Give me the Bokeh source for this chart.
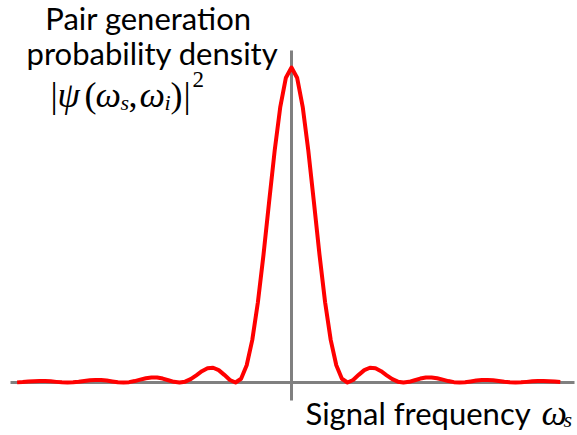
from bokeh.plotting import figure
from bokeh.models import Label, Range1d
from bokeh.embed import file_html
from bokeh.resources import INLINE

# Normalized signal frequency (offset from centre, in units of first-zero spacing)
freq = [-4.9, -4.8, -4.7, -4.6, -4.5, -4.4, -4.3, -4.2, -4.1, -4.0,
        -3.9, -3.8, -3.7, -3.6, -3.5, -3.4, -3.3, -3.2, -3.1, -3.0,
        -2.9, -2.8, -2.7, -2.6, -2.5, -2.4, -2.3, -2.2, -2.1, -2.0,
        -1.9, -1.8, -1.7, -1.6, -1.5, -1.4, -1.3, -1.2, -1.1, -1.0,
        -0.9, -0.8, -0.7, -0.6, -0.5, -0.4, -0.3, -0.2, -0.1, 0.0,
        0.1, 0.2, 0.3, 0.4, 0.5, 0.6, 0.7, 0.8, 0.9, 1.0,
        1.1, 1.2, 1.3, 1.4, 1.5, 1.6, 1.7, 1.8, 1.9, 2.0,
        2.1, 2.2, 2.3, 2.4, 2.5, 2.6, 2.7, 2.8, 2.9, 3.0,
        3.1, 3.2, 3.3, 3.4, 3.5, 3.6, 3.7, 3.8, 3.9, 4.0,
        4.1, 4.2, 4.3, 4.4, 4.5, 4.6, 4.7, 4.8]
# Pair generation probability density (normalized to peak)
density = [0.0004, 0.0015, 0.0030, 0.0043, 0.0050, 0.0047, 0.0036, 0.0020, 0.0006, 0.0,
           0.0006, 0.0024, 0.0048, 0.0071, 0.0083, 0.0079, 0.0061, 0.0034, 0.0010, 0.0,
           0.0011, 0.0045, 0.0091, 0.0136, 0.0162, 0.0159, 0.0125, 0.0072, 0.0022, 0.0,
           0.0027, 0.0108, 0.0229, 0.0358, 0.0450, 0.0468, 0.0392, 0.0243, 0.0080, 0.0,
           0.0119, 0.0547, 0.1353, 0.2546, 0.4053, 0.5728, 0.7368, 0.8751, 0.9675, 1.0,
           0.9675, 0.8751, 0.7368, 0.5728, 0.4053, 0.2546, 0.1353, 0.0547, 0.0119, 0.0,
           0.0080, 0.0243, 0.0392, 0.0468, 0.0450, 0.0358, 0.0229, 0.0108, 0.0027, 0.0,
           0.0022, 0.0072, 0.0125, 0.0159, 0.0162, 0.0136, 0.0091, 0.0045, 0.0011, 0.0,
           0.0010, 0.0034, 0.0061, 0.0079, 0.0083, 0.0071, 0.0048, 0.0024, 0.0006, 0.0,
           0.0006, 0.0020, 0.0036, 0.0047, 0.0050, 0.0043, 0.0030, 0.0015]

W, H = 577, 435
X0 = 291.0      # canvas px of freq = 0
SX = 56.0       # px per freq unit
Y0 = 382.0      # canvas px (from top) of density = 0
SY = 315.0      # px per density unit

p = figure(width=W, height=H, output_backend="svg", toolbar_location=None,
           x_range=Range1d(-X0 / SX, (W - X0) / SX),
           y_range=Range1d((Y0 - H) / SY, Y0 / SY),
           min_border=0, outline_line_color=None)
p.axis.visible = False
p.grid.visible = False
p.background_fill_color = "white"
p.border_fill_color = "white"

def dx(px):
    return (px - X0) / SX

def dy(py):
    return (Y0 - py) / SY

AX = "#808080"
# axes drawn through the origin
p.segment(x0=[dx(10)], y0=[0], x1=[dx(574)], y1=[0], line_color=AX, line_width=3)
p.segment(x0=[0], y0=[dy(50)], x1=[0], y1=[dy(400)], line_color=AX, line_width=3)

p.line(freq, density, line_color="#ff0000", line_width=4, line_join="round")

SANS = "Lato"
SERIF = "Liberation Serif"
DY = 11  # empirical correction of label baseline placement

def lab(text, ix, iy, size, font=SANS, style="normal", align="left"):
    p.add_layout(Label(x=ix, y=H - (iy - DY), x_units="screen", y_units="screen",
                       text=text, text_font=font, text_font_size=f"{size}px",
                       text_font_style=style, text_color="#000000",
                       text_align=align, text_baseline="alphabetic"))

lab("Pair generation", 148, 28, 31, align="center")
lab("probability density", 152, 63, 31, align="center")

# |psi(omega_s, omega_i)|^2
lab("|", 50, 105, 36, SERIF)
lab("ψ", 57, 105, 36, SERIF, "italic")
lab("(", 84, 105, 36, SERIF)
lab("ω", 95, 105, 36, SERIF, "italic")
lab("s", 120, 113, 22, SERIF, "italic")
lab(",", 128, 105, 36, SERIF)
lab("ω", 139, 105, 36, SERIF, "italic")
lab("i", 164, 113, 22, SERIF, "italic")
lab(")", 170, 105, 36, SERIF)
lab("|", 183, 105, 36, SERIF)
lab("2", 192, 90, 23, SERIF)

lab("Signal frequency", 305, 423, 31)
lab("ω", 541, 423, 36, SERIF, "italic")
lab("s", 563, 430, 22, SERIF, "italic")

open("out.html", "w").write(file_html(p, INLINE))
